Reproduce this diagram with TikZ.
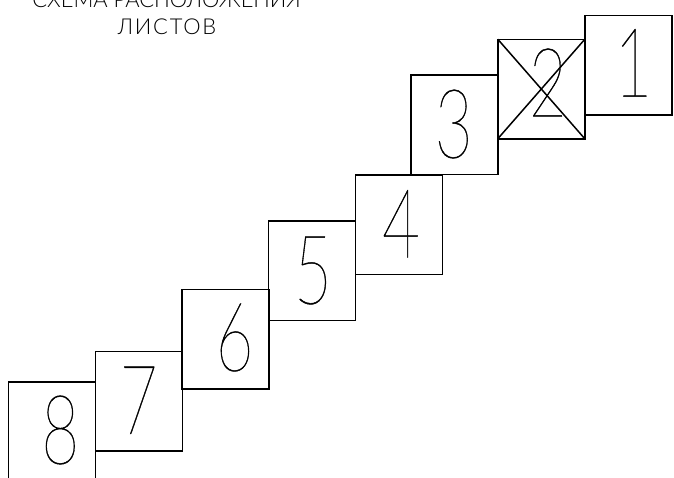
\documentclass[tikz,border=0pt]{standalone}
\usepackage{fontspec}
\usepackage{graphicx}
\newfontfamily\digitfont[FakeBold=0.5]{Lato Thin}
\newfontfamily\titlefont{Lato Light}
\newfontfamily\titlefontsp[LetterSpace=8]{Lato Light}
\tikzset{
  sheet/.style={draw=black, line width=1.5pt, minimum width=87pt, minimum height=99.5pt, inner sep=0pt, outer sep=0pt},
  digit/.style={inner sep=0pt, outer sep=0pt, font=\digitfont\fontsize{96}{96}\selectfont},
  ttl/.style={inner sep=0pt, outer sep=0pt, anchor=base, font=\titlefont\fontsize{21.9}{26}\selectfont},
  ttlsp/.style={ttl, font=\titlefontsp\fontsize{21.9}{26}\selectfont},
  cross/.style={line width=1.5pt}
}
\newcommand{\dg}[1]{\scalebox{0.68}[1]{#1}}
\begin{document}
\begin{tikzpicture}[x=1pt,y=-1pt]
\useasboundingbox (0,0) rectangle (674,477);
\clip (0,0) rectangle (674,477);
% sheets
\node[sheet] (b1) at (628.3,65.2) {};
\node[sheet] (b2) at (541.3,89.0) {};
\node[sheet] (b3) at (454.7,124.8) {};
\node[sheet] (b4) at (399.2,224.7) {};
\node[sheet] (b5) at (312.0,270.7) {};
\node[sheet] (b6) at (225.3,339.0) {};
\node[sheet] (b7) at (139.0,401.3) {};
\node[sheet] (b8) at (52.0,431.5) {};
\draw[cross] (b2.north west) -- (b2.south east);
\draw[cross] (b2.north east) -- (b2.south west);
% numbers
\node[digit] (d1) at (633.3,62.8) {\dg{1}};
\node[digit] (d2) at (547.8,82.5) {\dg{2}};
\node[digit] (d3) at (453.7,124.0) {\dg{3}};
\node[digit] (d4) at (401.0,223.7) {\dg{4}};
\node[digit] (d5) at (313.0,270.5) {\dg{5}};
\node[digit] (d6) at (234.5,337.5) {\dg{6}};
\node[digit] (d7) at (138.7,400.3) {\dg{7}};
\node[digit] (d8) at (60.3,430.0) {\dg{8}};
% title
\node[ttl] (t1) at (166.5,7) {СХЕМА РАСПОЛОЖЕНИЯ};
\node[ttlsp] (t2) at (167,34) {ЛИСТОВ};
\end{tikzpicture}
\end{document}
